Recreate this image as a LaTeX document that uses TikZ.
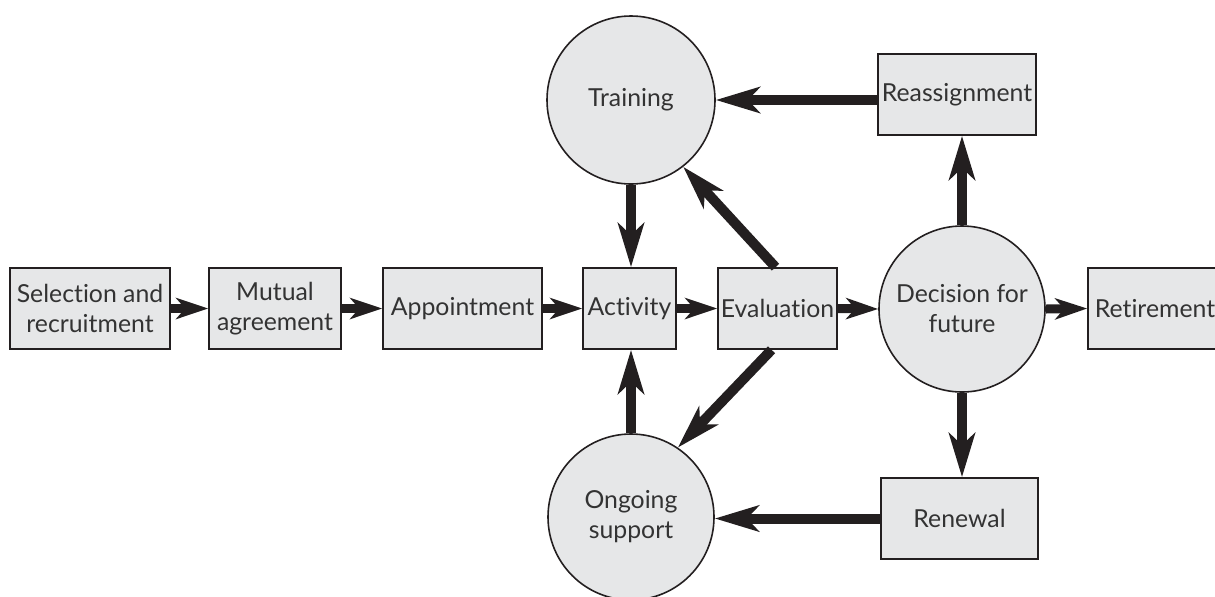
\documentclass[tikz,border=0pt]{standalone}
\usepackage{fontspec}
\setmainfont{Lato}[Ligatures={NoCommon}]
\usetikzlibrary{arrows.meta}
\definecolor{boxfill}{HTML}{E6E7E8}
\definecolor{ink}{HTML}{231F20}
\definecolor{txt}{HTML}{333333}
\begin{document}
\begin{tikzpicture}[x=0.5pt,y=-0.5pt,
  base/.style={draw=ink, line width=0.8pt, fill=boxfill, inner sep=0pt, align=center,
    text=txt, font=\fontsize{12.4}{15}\selectfont},
  box/.style={base, rectangle, minimum height=40.5pt},
  circ/.style={base, circle, minimum size=83pt},
  small/.style={draw=ink, line width=4.5pt, -{Stealth[length=16pt,width=10.5pt,inset=4.5pt]}},
  big/.style={draw=ink, line width=5pt, -{Stealth[length=22pt,width=13pt,inset=6pt]}}]
\useasboundingbox (0,0) rectangle (1215,596);
\node[box, minimum width=80pt] (sel) at (90,308.5) {Selection and\\recruitment};
\node[box, minimum width=66pt] (mut) at (275,308.5) {Mutual\\agreement};
\node[box, minimum width=79.5pt] (app) at (462.5,308.5) {Appointment};
\node[box, minimum width=46.5pt] (act) at (629.5,308.5) {Activity};
\node[box, minimum width=59.5pt] (eva) at (777.5,308.5) {Evaluation};
\node[circ] (dec) at (962,309) {Decision for\\future};
\node[box, minimum width=67pt] (ret) at (1155,308.5) {Retirement};
\node[circ, minimum size=84pt] (tra) at (631,100) {Training};
\node[circ] (ong) at (631,517) {Ongoing\\support};
\node[box, minimum width=79pt] (rea) at (957,94.5) {Reassignment};
\node[box, minimum width=78.5pt] (ren) at (959.5,518.5) {Renewal};

\draw[small] (sel.east) -- (mut.west);
\draw[small] (mut.east) -- (app.west);
\draw[small] (app.east) -- (act.west);
\draw[small] (act.east) -- (eva.west);
\draw[small] (eva.east) -- (dec.west);
\draw[small] (dec.east) -- (ret.west);

\draw[big] (tra.south) -- (tra.south |- act.north);
\draw[big] (ong.north) -- (ong.north |- act.south);
\draw[big] ([xshift=-1pt]eva.north) -- (tra.-52);
\draw[big] ([xshift=-3pt]eva.south) -- (ong.56);
\draw[big] (rea.west |- tra.east) -- (tra.east);
\draw[big] (dec.north) -- (dec.north |- rea.south);
\draw[big] (dec.south) -- (dec.south |- ren.north);
\draw[big] (ren.west) -- (ren.west -| ong.east);
\end{tikzpicture}
\end{document}
